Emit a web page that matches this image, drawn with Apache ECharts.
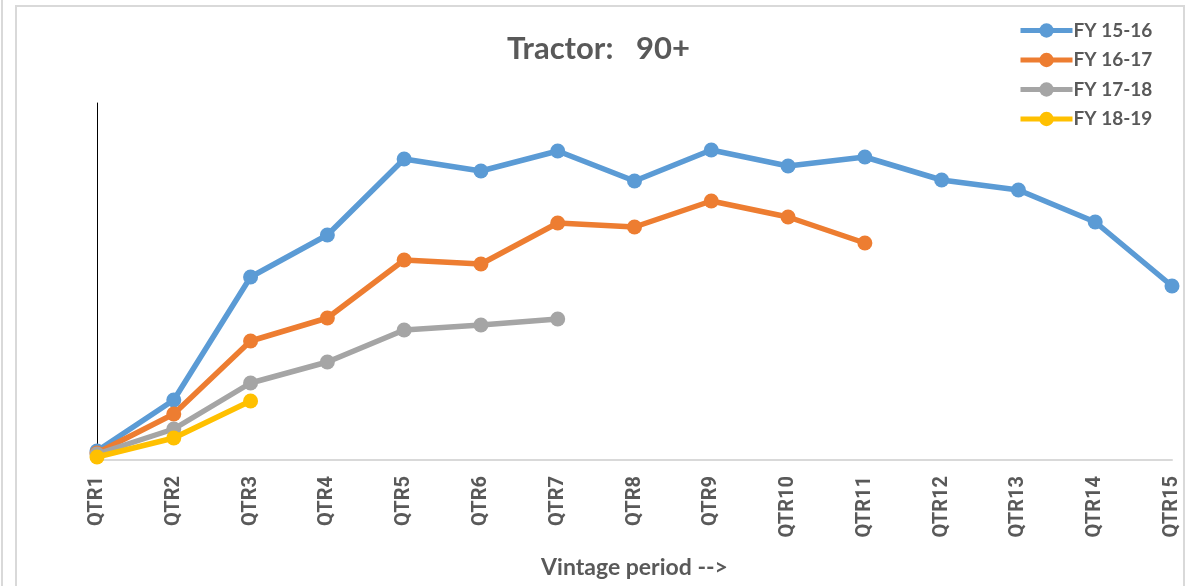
<!DOCTYPE html>
<html><head><meta charset="utf-8">
<script src="https://cdn.jsdelivr.net/npm/echarts@6/dist/echarts.min.js"></script>
<style>
html,body{margin:0;padding:0;background:#fff;}
#wrap{position:relative;width:1197px;height:586px;overflow:hidden;}
#c{position:absolute;left:0;top:0;width:1197px;height:586px;}
.b1{position:absolute;left:1px;top:0;width:2px;height:586px;background:#d9d9d9;}
.b2{position:absolute;left:15px;top:5px;width:1170px;height:600px;border:2px solid #d9d9d9;border-bottom:none;box-sizing:border-box;}
</style></head>
<body><div id="wrap"><div class="b1"></div><div class="b2"></div><div id="c"></div></div>
<script>
const categories = ['QTR1','QTR2','QTR3','QTR4','QTR5','QTR6','QTR7','QTR8','QTR9','QTR10','QTR11','QTR12','QTR13','QTR14','QTR15'];
const fy1516 = [9, 60, 183, 225, 301, 289, 309, 279, 310, 294, 303, 280, 270, 238, 174];
const fy1617 = [7, 46, 119, 142, 200, 196, 237, 233, 259, 243, 217];
const fy1718 = [6, 31, 77, 98, 130, 135, 141];
const fy1819 = [3, 22, 59];
const seriesNames = ['FY 15-16','FY 16-17','FY 17-18','FY 18-19'];
const colors = ['#5B9BD5','#ED7D31','#A5A5A5','#FFC000'];
const dataSets = [fy1516, fy1617, fy1718, fy1819];

const chart = echarts.init(document.getElementById('c'));
chart.setOption({
  animation:false,
  backgroundColor:'transparent',
  title:{text:'Tractor:   90+', left:'center', top:28,
    textStyle:{fontFamily:'Lato', fontWeight:'bold', fontSize:31, color:'#595959'}},
  legend:{orient:'vertical', left:1013, top:16, itemWidth:52, itemHeight:18, itemGap:10.5,
    lineStyle:{width:5},
    textStyle:{fontFamily:'Lato', fontWeight:'bold', fontSize:19, color:'#595959', padding:[0,0,0,-4]},
    data:seriesNames},
  grid:{left:97, right:25, top:103, bottom:126, containLabel:false},
  xAxis:{type:'category', data:categories, boundaryGap:false,
    axisLine:{lineStyle:{color:'#d9d9d9', width:2}}, axisTick:{show:false},
    axisLabel:{rotate:90, margin:16, fontFamily:'Roboto', fontWeight:'bold', fontSize:20, color:'#595959', interval:0},
    name:'Vintage period -->', nameLocation:'middle', nameGap:96,
    nameTextStyle:{fontFamily:'Lato', fontWeight:'bold', fontSize:23, color:'#595959'}},
  yAxis:{type:'value', min:0, max:357, axisLine:{show:true, lineStyle:{color:'#000', width:1}},
    axisTick:{show:false}, axisLabel:{show:false}, splitLine:{show:false}},
  series: dataSets.map((d,i)=>({
    name:seriesNames[i], type:'line', data:d, symbol:'circle', symbolSize:15,
    lineStyle:{color:colors[i], width:5.5}, itemStyle:{color:colors[i]}, z:2+i
  }))
});
</script></body></html>
